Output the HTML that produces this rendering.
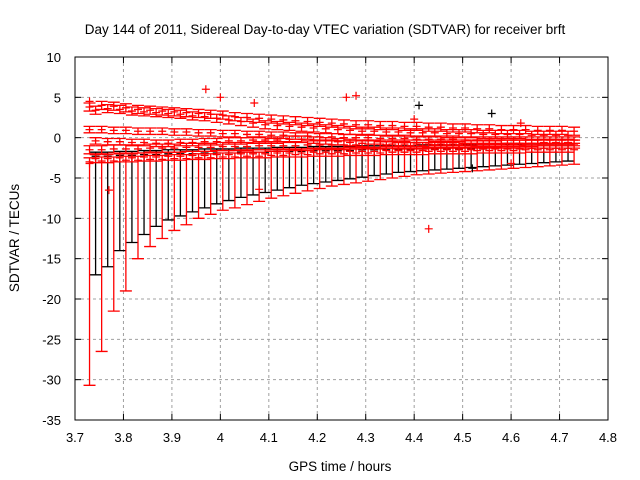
<!DOCTYPE html>
<html><head><meta charset="utf-8"><style>
body{margin:0;background:#fff}
svg{display:block;font-family:"Liberation Sans",sans-serif}
</style></head><body>
<svg id="chart" width="640" height="480" viewBox="0 0 640 480" xmlns="http://www.w3.org/2000/svg">
<rect width="640" height="480" fill="#fff"/>
<text x="325" y="34" font-size="13.5" text-anchor="middle">Day 144 of 2011, Sidereal Day-to-day VTEC variation (SDTVAR) for receiver brft</text>
<text x="340" y="471" font-size="13.5" text-anchor="middle">GPS time / hours</text>
<text x="19" y="238" font-size="13.5" text-anchor="middle" transform="rotate(-90 19 238)">SDTVAR / TECUs</text>
<g id="grid"></g><g id="marks"></g><g id="axes"></g>
</svg>
<script>
const xTicks=[3.7,3.8,3.9,4.0,4.1,4.2,4.3,4.4,4.5,4.6,4.7,4.8];
const xTickLabels=["3.7","3.8","3.9","4","4.1","4.2","4.3","4.4","4.5","4.6","4.7","4.8"];
const yTicks=[10,5,0,-5,-10,-15,-20,-25,-30,-35];
const xStep=0.025;
const centerA=[3.8,4.0,3.9,3.7,3.5,3.4,3.3,3.2,3.1,3.0,2.9,2.8,2.6,2.5,2.4,2.3,2.2,2.1,2.0,1.9,1.8,1.7,1.6,1.6,1.5,1.5,1.4,1.4,1.3,1.3,1.2,1.2,1.1,1.1,1.0,1.0,1.0,0.9,0.9,0.9,0.8];
const centerA2=[3.4,3.6,3.5,3.3,3.2,3.1,3.0,2.9,2.7,2.6,2.4,2.2,2.0,1.8,1.6,1.5,1.4,1.3,1.2,1.1,1.0,0.9,0.8,0.8,0.7,0.7,0.6,0.6,0.6,0.5,0.5,0.5,0.4,0.4,0.4,0.4,0.3,0.3,0.3,0.3];
const centerC=[1.0,1.0,0.9,0.9,0.8,0.8,0.8,0.7,0.7,0.6,0.6,0.5,0.5,0.4,0.4,0.3,0.3,0.2,0.2,0.1,0.1,0.0,0.0,0.0,-0.1,-0.1,-0.1,-0.2,-0.2,-0.2,-0.2,-0.3,-0.3,-0.3,-0.3,-0.3,-0.3,-0.3,-0.3,-0.3,-0.3];
const centerC2=[-0.4,-0.5,-0.5,-0.6,-0.6,-0.7,-0.7,-0.6,-0.6,-0.5,-0.5,-0.4,-0.4,-0.3,-0.3,-0.3,-0.2,-0.2,-0.3,-0.4,-0.5,-0.6,-0.7,-0.8,-0.9,-1.0,-1.0,-1.0,-0.9,-0.9,-0.9,-0.8,-0.8,-0.8,-0.7,-0.7,-0.7,-0.6,-0.6,-0.6];
const centerD=[-1.5,-1.5,-1.4,-1.4,-1.4,-1.3,-1.3,-1.3,-1.2,-1.2,-1.2,-1.1,-1.1,-1.1,-1.0,-1.0,-1.0,-1.0,-0.9,-0.9,-0.9,-0.9,-0.9,-0.8,-0.8,-0.8,-0.8,-0.8,-0.8,-0.8,-0.8,-0.8,-0.8,-0.8,-0.8,-0.8,-0.8,-0.8,-0.8,-0.8,-0.8];
const centerD2=[-2.6,-2.6,-2.5,-2.5,-2.4,-2.4,-2.3,-2.3,-2.2,-2.2,-2.1,-2.1,-2.0,-2.0,-2.0,-1.9,-1.9,-1.9,-1.8,-1.8,-1.8,-1.7,-1.7,-1.7,-1.6,-1.6,-1.6,-1.6,-1.5,-1.5,-1.5,-1.5,-1.4,-1.4,-1.4,-1.4,-1.3,-1.3,-1.3,-1.3];
const centerB=[-2.3,-2.3,-2.2,-2.2,-2.1,-2.1,-2.0,-2.0,-2.0,-1.9,-1.9,-1.9,-1.8,-1.8,-1.8,-1.7,-1.7,-1.7,-1.6,-1.6,-1.6,-1.6,-1.5,-1.5,-1.5,-1.5,-1.5,-1.4,-1.4,-1.4,-1.4,-1.4,-1.4,-1.3,-1.3,-1.3,-1.3,-1.3,-1.3,-1.3];
const lowB=[-17,-16,-14,-13,-12,-11,-10.2,-9.7,-9.2,-8.7,-8.2,-7.8,-7.4,-7.1,-6.8,-6.5,-6.2,-5.9,-5.7,-5.5,-5.3,-5.1,-4.9,-4.7,-4.5,-4.3,-4.2,-4.1,-4.0,-3.9,-3.8,-3.7,-3.6,-3.5,-3.4,-3.3,-3.2,-3.1,-3.0,-2.9];
const centerE=[-3.0,-2.9,-2.9,-2.8,-2.8,-2.7,-2.7,-2.6,-2.6,-2.5,-2.5,-2.4,-2.4,-2.3,-2.3,-2.2,-2.2,-2.1,-2.1,-2.0,-2.0,-2.0,-1.9,-1.9,-1.9,-1.8,-1.8,-1.8,-1.7,-1.7,-1.7,-1.7,-1.6,-1.6,-1.6,-1.6,-1.5,-1.5,-1.5,-1.5,-1.5];
const lowE=[-30.7,-26.5,-21.5,-19,-15,-13.5,-12.5,-11.5,-10.8,-10,-9.5,-9,-8.7,-8.3,-7.9,-7.5,-7.2,-6.9,-6.6,-6.3,-6,-5.8,-5.6,-5.4,-5.2,-5,-4.8,-4.6,-4.5,-4.4,-4.3,-4.2,-4.1,-4.0,-3.9,-3.8,-3.7,-3.6,-3.5,-3.4,-3.3];
const errHalf=[0.5,0.4,0.5,0.5,0.5];
const outX=[3.73,3.97,4.0,4.07,4.26,4.28,4.4,4.43,4.08,4.6,3.73,3.77,4.62];
const outY=[4.5,6.0,5.0,4.3,5.0,5.2,2.3,-11.3,-6.4,-3.2,-3.2,-6.5,1.8];
const outBX=[4.41,4.56,4.52];
const outBY=[4.0,3.0,-3.8];

const X0=75,X1=608,Y0=57,Y1=420;
const sx=v=>X0+(v-3.7)/(4.8-3.7)*(X1-X0);
const sy=v=>Y0+(10-v)/45*(Y1-Y0);
const NS="http://www.w3.org/2000/svg";
function mk(tag,attrs,parent){const e=document.createElementNS(NS,tag);for(const k in attrs)e.setAttribute(k,attrs[k]);parent.appendChild(e);return e;}
const grid=document.getElementById('grid'),marks=document.getElementById('marks'),axes=document.getElementById('axes');
xTicks.forEach((t,i)=>{const x=sx(t);
 if(i>0&&i<xTicks.length-1){const g=mk('line',{x1:x,x2:x,y1:Y0,y2:Y1,stroke:'#a0a0a0','stroke-dasharray':'3,3'},grid);
 
 }
 mk('line',{x1:x,x2:x,y1:Y1,y2:Y1-6,stroke:'#000'},axes);mk('line',{x1:x,x2:x,y1:Y0,y2:Y0+6,stroke:'#000'},axes);
 const l=mk('text',{x:x,y:442,'font-size':13,'text-anchor':'middle'},axes);l.textContent=xTickLabels[i];
 
 });
yTicks.forEach((t,i)=>{const y=sy(t);
 if(i>0&&i<yTicks.length-1){const g=mk('line',{x1:X0,x2:X1,y1:y,y2:y,stroke:'#a0a0a0','stroke-dasharray':'3,3'},grid);
 
 }
 mk('line',{x1:X0,x2:X0+6,y1:y,y2:y,stroke:'#000'},axes);mk('line',{x1:X1,x2:X1-6,y1:y,y2:y,stroke:'#000'},axes);
 const l=mk('text',{x:X0-14,y:y+5,'font-size':13,'text-anchor':'end'},axes);l.textContent=String(t);
 
 });
const fr=mk('rect',{x:X0,y:Y0,width:X1-X0,height:Y1-Y0,fill:'none',stroke:'#000'},axes);


function series(x0,center,low,half,color,name){
 const g=mk('g',{stroke:color,'stroke-width':1.3,fill:'none'},marks);
 
 
 center.forEach((c,i)=>{const x=sx(x0+i*xStep);const lo=low?low[i]:c-half;const hi=c+half;
  const yl=sy(lo),yh=sy(hi),yc=sy(c),w=6;
  mk('path',{d:`M${x} ${yl}V${yh}M${x-w} ${yl}H${x+w}M${x-w} ${yh}H${x+w}M${x-4} ${yc}H${x+4}`},g);});
}
series(3.7425,centerB,lowB,errHalf[3],'#000000','series-b');
series(3.73,centerE,lowE,errHalf[4],'#ff0000','series-e');
series(3.7425,centerD2,null,errHalf[2],'#ff0000','series-d2');
series(3.73,centerD,null,errHalf[2],'#ff0000','series-d');
series(3.7425,centerC2,null,errHalf[1],'#ff0000','series-c2');
series(3.73,centerC,null,errHalf[1],'#ff0000','series-c');
series(3.7425,centerA2,null,errHalf[0],'#ff0000','series-a2');
series(3.73,centerA,null,errHalf[0],'#ff0000','series-a');
function crosses(xs,ys,color,name){const g=mk('g',{stroke:color,'stroke-width':1.2},marks);
 
 
 xs.forEach((v,i)=>{const x=sx(v),y=sy(ys[i]);mk('path',{d:`M${x-4} ${y}H${x+4}M${x} ${y-4}V${y+4}`},g);});}
crosses(outX,outY,'#ff0000','outlier-points-red');
crosses(outBX,outBY,'#000000','outlier-points-black');
</script>
</body></html>
